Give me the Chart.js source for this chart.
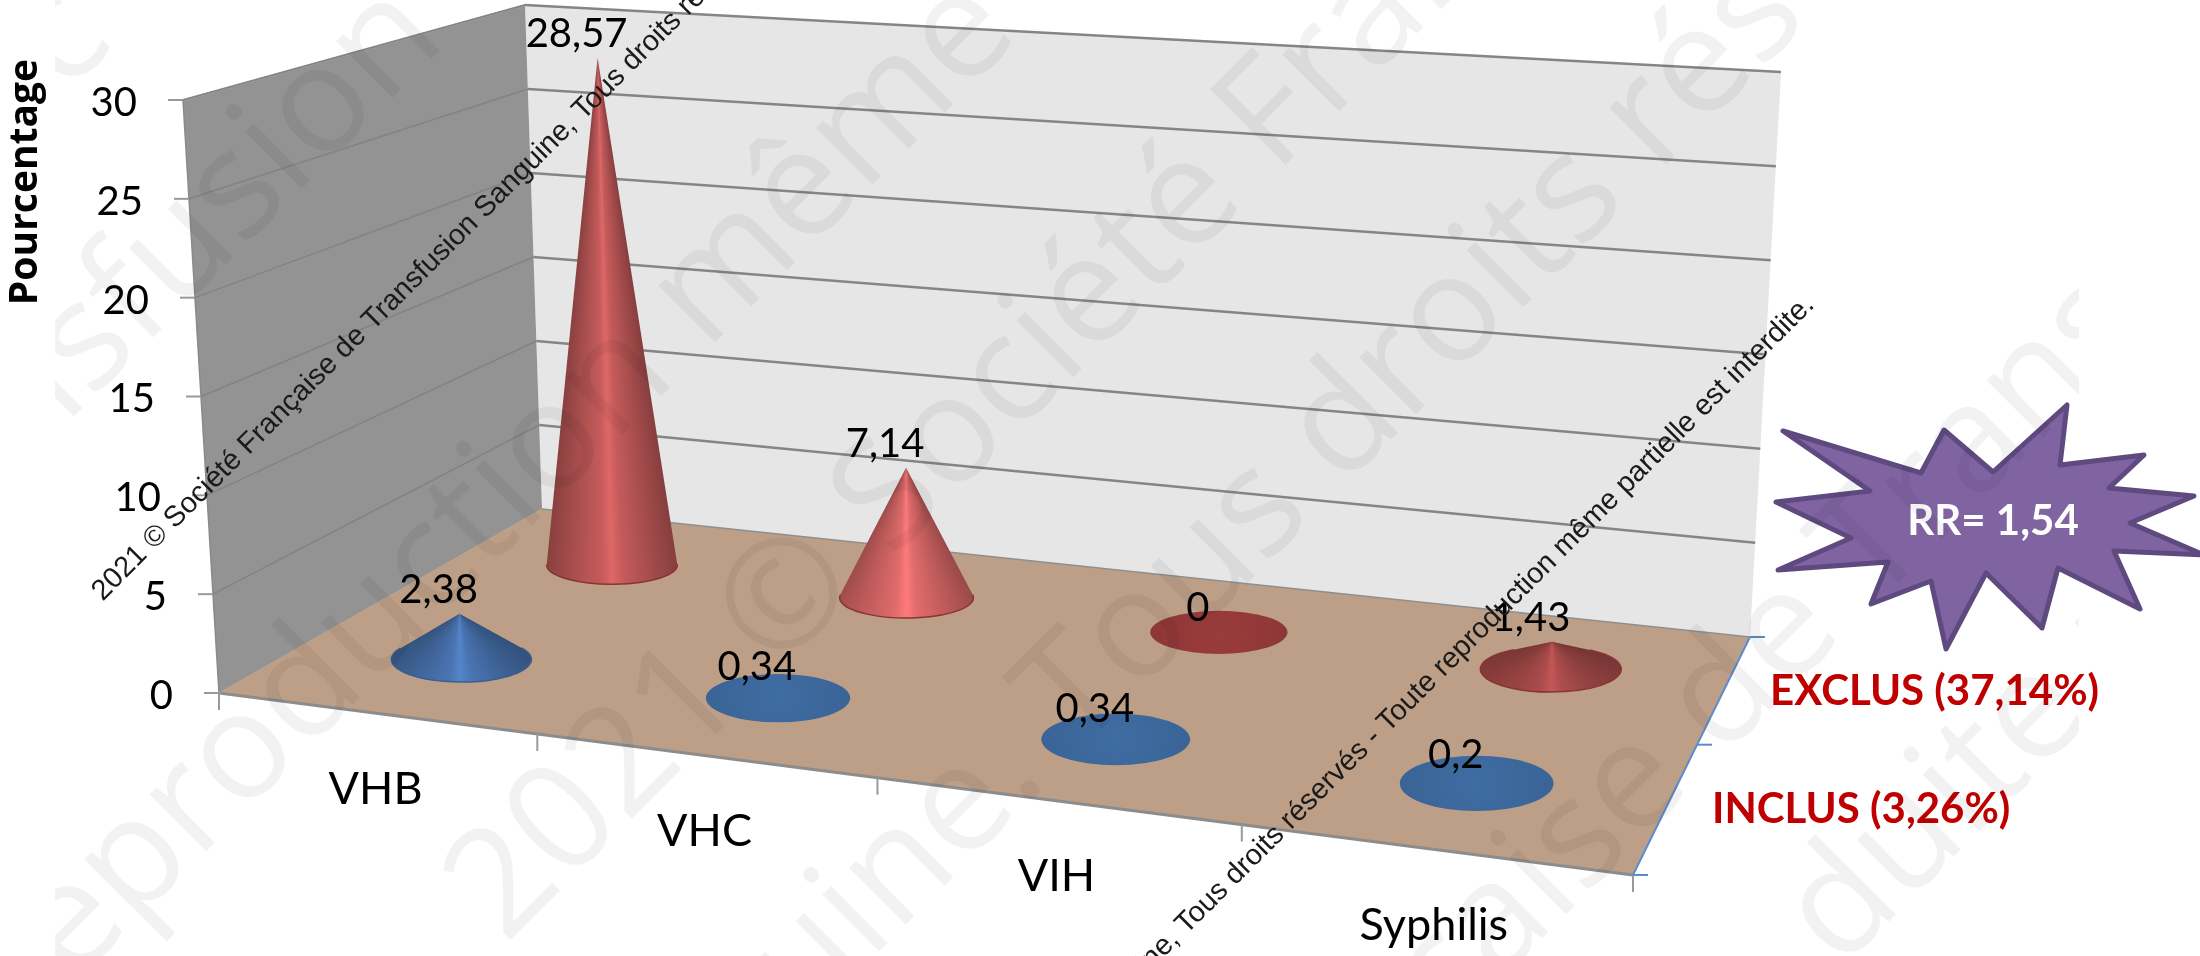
<!DOCTYPE html>
<html lang="fr">
<head>
    <meta charset="UTF-8">
    <title>Pourcentage VHB VHC VIH Syphilis</title>
    <script src="https://cdn.jsdelivr.net/npm/chart.js"></script>
    <style>
        body { margin: 0; padding: 0; background-color: white; }
        canvas { display: block; }
    </style>
</head>
<body>
    <canvas id="coneChart" width="2200" height="956"></canvas>

    <script>
        // donnees
        const categories = ['VHB', 'VHC', 'VIH', 'Syphilis'];
        const depthLabels = ['INCLUS (3,26%)', 'EXCLUS (37,14%)'];
        const inclus = [2.38, 0.34, 0.34, 0.2];
        const exclus = [28.57, 7.14, 0, 1.43];
        const yTicks = [0, 5, 10, 15, 20, 25, 30];
        const axisTitle = 'Pourcentage';
        const badgeText = 'RR= 1,54';
        const copyright = '2021 © Société Française de Transfusion Sanguine, Tous droits réservés - Toute reproduction même partielle est interdite.';

        // la boite 3D vue en perspective : coins du sol, et montant vertical (dx, dy) a chaque coin
        const floorQuad = [[219, 693], [1633, 875], [1750, 637], [542, 509]];
        const riseAtCorner = [[-36, -593], [32, -620], [31, -565], [-17, -504]];

        const starPoints = [[1783, 431], [1921, 473], [1944, 430], [1993, 472], [2067, 405], [2060, 465], [2144, 455],
            [2109, 488], [2194, 496], [2130, 523], [2204, 555], [2114, 551], [2140, 609], [2058, 568], [2042, 628],
            [1986, 573], [1946, 649], [1931, 581], [1871, 604], [1888, 562], [1778, 570], [1851, 538], [1776, 502], [1870, 491]];

        // filigrane : c = x + y de la ligne, u = x - y du debut du texte
        const watermark = [
            { text: 'c', c: 100, u: -30 },
            { text: 'Transfusion', c: 430, u: -760 },
            { text: 'Reproduction même', c: 997, u: -1043 },
            { text: '2021 © Société Française', c: 1390, u: -440 },
            { text: 'Sanguine. Tous droits réservés', c: 1770, u: -700 },
            { text: 'Française de Transfusion', c: 2420, u: -30 },
            { text: 'duite reproduction', c: 2750, u: 870 }
        ];

        const redCone = { flat: [142, 55, 55], lit: [255, 122, 122] };
        const blueCone = { flat: [58, 100, 150], lit: [86, 136, 208] };

        function squareToQuad(q) {
            const [x0, y0] = q[0], [x1, y1] = q[1], [x2, y2] = q[2], [x3, y3] = q[3];
            const dx1 = x1 - x2, dx2 = x3 - x2, sx = x0 - x1 + x2 - x3;
            const dy1 = y1 - y2, dy2 = y3 - y2, sy = y0 - y1 + y2 - y3;
            const den = dx1 * dy2 - dx2 * dy1;
            const g = (sx * dy2 - dx2 * sy) / den;
            const h = (dx1 * sy - sx * dy1) / den;
            const a = x1 - x0 + g * x1, b = x3 - x0 + h * x3;
            const d = y1 - y0 + g * y1, e = y3 - y0 + h * y3;
            return (u, v) => {
                const w = g * u + h * v + 1;
                return [(a * u + b * v + x0) / w, (d * u + e * v + y0) / w];
            };
        }
        const floorAt = squareToQuad(floorQuad);

        // u, v entre 0 et 1 sur le sol, t = fraction de la hauteur de l'axe
        function point3d(u, v, t) {
            const f = floorAt(u, v);
            const r = riseAtCorner;
            const mix = i => (r[0][i] * (1 - u) + r[1][i] * u) * (1 - v) + (r[3][i] * (1 - u) + r[2][i] * u) * v;
            return { x: f[0] + mix(0) * t, y: f[1] + mix(1) * t };
        }

        function polygon(ctx, pts, fill, stroke, width) {
            ctx.beginPath();
            pts.forEach((p, i) => i ? ctx.lineTo(p.x, p.y) : ctx.moveTo(p.x, p.y));
            ctx.closePath();
            if (fill) { ctx.fillStyle = fill; ctx.fill(); }
            if (stroke) { ctx.strokeStyle = stroke; ctx.lineWidth = width; ctx.lineJoin = 'round'; ctx.stroke(); }
        }

        function line(ctx, a, b, color, width) {
            ctx.beginPath();
            ctx.moveTo(a.x, a.y);
            ctx.lineTo(b.x, b.y);
            ctx.strokeStyle = color;
            ctx.lineWidth = width;
            ctx.stroke();
        }

        function label(ctx, text, x, y, font, color, align) {
            ctx.font = font;
            ctx.fillStyle = color;
            ctx.textAlign = align || 'center';
            ctx.textBaseline = 'middle';
            ctx.fillText(text, x, y);
        }

        function rgb(c, k) {
            return 'rgb(' + c.map(n => Math.min(255, Math.round(n * k))).join(',') + ')';
        }

        function drawCone(ctx, base, apex, rx, ry, colors) {
            const ax = (apex.x - base.x) / rx, ay = (apex.y - base.y) / ry;
            const d = Math.hypot(ax, ay);
            ctx.save();
            if (d <= 1) {
                // cone presque plat : on ne voit que le disque
                const g = ctx.createRadialGradient(apex.x, apex.y + 4, 0, apex.x, apex.y + 4, rx);
                g.addColorStop(0, rgb(colors.flat, 1.08));
                g.addColorStop(0.5, rgb(colors.flat, 1.04));
                g.addColorStop(1, rgb(colors.flat, 1));
                ctx.beginPath();
                ctx.ellipse(base.x, base.y, rx, ry, 0, 0, Math.PI * 2);
                ctx.fillStyle = g;
                ctx.fill();
                ctx.restore();
                return;
            }
            const th = Math.atan2(ay, ax), phi = Math.acos(1 / d);
            const a1 = th + phi, a2 = th - phi + Math.PI * 2;
            const right = { x: base.x + rx * Math.cos(a1), y: base.y + ry * Math.sin(a1) };
            const left = { x: base.x + rx * Math.cos(a2), y: base.y + ry * Math.sin(a2) };
            const ang1 = Math.atan2(right.y - apex.y, right.x - apex.x);
            let ang2 = Math.atan2(left.y - apex.y, left.x - apex.x);
            if (ang2 < ang1) ang2 += Math.PI * 2;
            const span = (ang2 - ang1) / (Math.PI * 2);

            const ratio = (base.y - apex.y) / rx;
            const s = Math.min(1, (ratio - 0.1) / 0.6) * (ratio > 4 ? 0.72 : 1);
            const c = colors.flat.map((n, i) => n + (colors.lit[i] - n) * s);
            const g = ctx.createConicGradient(ang1, apex.x, apex.y);
            g.addColorStop(0, rgb(c, 0.6));
            g.addColorStop(span * 0.18, rgb(c, 0.72));
            g.addColorStop(span * 0.42, rgb(c, 0.88));
            g.addColorStop(span * 0.5, rgb(c, 1));
            g.addColorStop(span * 0.58, rgb(c, 0.88));
            g.addColorStop(span * 0.82, rgb(c, 0.74));
            g.addColorStop(span, rgb(c, 0.62));
            g.addColorStop(1, rgb(c, 0.62));

            ctx.beginPath();
            ctx.moveTo(apex.x, apex.y);
            ctx.ellipse(base.x, base.y, rx, ry, 0, a1, a2);
            ctx.closePath();
            ctx.fillStyle = g;
            ctx.fill();

            ctx.beginPath();
            ctx.ellipse(base.x, base.y, rx, ry, 0, a1, a2);
            ctx.strokeStyle = rgb(colors.flat, 0.95);
            ctx.lineWidth = 1.5;
            ctx.stroke();
            ctx.restore();
        }

        // passe par les echelles du graphique pour placer chaque valeur
        function toFloor(chart, catIndex, depthIndex) {
            const x = chart.scales.x, depth = chart.scales.depth;
            return {
                u: (x.getPixelForValue(catIndex) - x.left) / x.width,
                v: (depth.getPixelForValue(depthIndex) - depth.left) / depth.width
            };
        }
        function toHeight(chart, value) {
            const y = chart.scales.y;
            return (y.bottom - y.getPixelForValue(value)) / y.height;
        }

        const boxPlugin = {
            id: 'box3d',
            beforeDatasetsDraw(chart) {
                const ctx = chart.ctx;
                const fl = point3d(0, 0, 0), fr = point3d(1, 0, 0), br = point3d(1, 1, 0), bl = point3d(0, 1, 0);
                const tfl = point3d(0, 0, 1), tbl = point3d(0, 1, 1), tbr = point3d(1, 1, 1);

                polygon(ctx, [bl, tbl, tbr, br], '#e6e6e6');
                polygon(ctx, [fl, tfl, tbl, bl], '#939393');
                line(ctx, tfl, tbl, '#a9a9a9', 2);
                line(ctx, tfl, fl, '#8a8a8a', 1.5);

                yTicks.forEach(tick => {
                    const t = toHeight(chart, tick);
                    const a = point3d(0, 0, t), b = point3d(0, 1, t), c = point3d(1, 1, t);
                    if (tick > 0) {
                        line(ctx, a, b, '#838383', 1.5);
                        line(ctx, b, c, '#858585', 2.5);
                    }
                    line(ctx, { x: a.x - 15, y: a.y }, a, '#999999', 2);
                    label(ctx, String(tick), a.x - 46, chart.scales.y.getPixelForValue(tick) + 3, '40px Lato', '#000000', 'right');
                });

                polygon(ctx, [fl, fr, br, bl], '#bd9f87');
                line(ctx, bl, br, '#8f8f8f', 1.5);
                line(ctx, fl, fr, '#8c8c8c', 3);
                line(ctx, fr, br, '#5b8ccb', 2);
                line(ctx, fl, bl, '#b7a08b', 1);

                // graduations de l'axe des categories et de la profondeur
                for (let i = 0; i <= categories.length; i++) {
                    const p = point3d(i / categories.length, 0, 0);
                    line(ctx, p, { x: p.x, y: p.y + 17 }, '#999999', 2);
                }
                for (let i = 0; i <= depthLabels.length; i++) {
                    const p = point3d(1, i / depthLabels.length, 0);
                    line(ctx, p, { x: p.x + 15, y: p.y }, '#5b8ccb', 2);
                }

                const x = chart.scales.x;
                categories.forEach((name, i) => {
                    const u = (x.getPixelForValue(i) - x.left) / x.width;
                    const p = point3d(u, 0, 0);
                    label(ctx, name, p.x, p.y + 76, '45px Lato', '#000000');
                });

                label(ctx, depthLabels[1], 1770, 691, 'bold 42px Lato', '#c00000', 'left');
                label(ctx, depthLabels[0], 1712, 809, 'bold 42px Lato', '#c00000', 'left');

                ctx.save();
                ctx.translate(26, 182);
                ctx.rotate(-Math.PI / 2);
                label(ctx, axisTitle, 0, 0, 'bold 39px "Open Sans"', '#000000');
                ctx.restore();
            },
            afterDatasetsDraw(chart) {
                const ctx = chart.ctx;
                // du fond vers l'avant
                for (let d = chart.data.datasets.length - 1; d >= 0; d--) {
                    const ds = chart.data.datasets[d];
                    ds.data.forEach((value, i) => {
                        const pos = toFloor(chart, i, d);
                        const base = point3d(pos.u, pos.v, 0);
                        const apex = point3d(pos.u, pos.v, toHeight(chart, value));
                        const step = 1 / categories.length / 2, deep = 1 / depthLabels.length / 2;
                        const rx = (0.232 - 0.03 * pos.u) * (point3d(pos.u + step, pos.v, 0).x - point3d(pos.u - step, pos.v, 0).x);
                        const ry = 0.22 * (point3d(pos.u, pos.v - deep, 0).y - point3d(pos.u, pos.v + deep, 0).y);
                        drawCone(ctx, base, apex, rx, ry, ds.coneColors);
                    });
                }
                for (let d = chart.data.datasets.length - 1; d >= 0; d--) {
                    const ds = chart.data.datasets[d];
                    ds.data.forEach((value, i) => {
                        const pos = toFloor(chart, i, d);
                        const apex = point3d(pos.u, pos.v, toHeight(chart, value));
                        label(ctx, String(value).replace('.', ','), apex.x - 21, apex.y - 24, '40px Lato', '#000000');
                    });
                }
            },
            afterDraw(chart) {
                const ctx = chart.ctx;
                polygon(ctx, starPoints.map(p => ({ x: p[0], y: p[1] })), '#8064a2', '#5f4a80', 5);
                label(ctx, badgeText, 1993, 521, 'bold 42px Lato', '#ffffff');

                ctx.save();
                ctx.beginPath();
                ctx.rect(55, 0, 2024, 956);
                ctx.clip();
                watermark.forEach(w => {
                    ctx.save();
                    ctx.translate((w.c + w.u) / 2, (w.c - w.u) / 2);
                    ctx.rotate(-Math.PI / 4);
                    label(ctx, w.text, 0, 0, '150px "Open Sans"', 'rgba(0,0,0,0.05)', 'left');
                    ctx.restore();
                });
                ctx.restore();

                [[97, 596], [700, 1410]].forEach(p => {
                    ctx.save();
                    ctx.translate(p[0], p[1]);
                    ctx.rotate(-Math.PI / 4);
                    label(ctx, copyright, 0, 0, '29px "Liberation Sans"', '#1a1a1a', 'left');
                    ctx.restore();
                });
            }
        };

        new Chart(document.getElementById('coneChart').getContext('2d'), {
            type: 'bar',
            data: {
                labels: categories,
                datasets: [
                    { label: depthLabels[0], data: inclus, backgroundColor: 'transparent', coneColors: blueCone },
                    { label: depthLabels[1], data: exclus, backgroundColor: 'transparent', coneColors: redCone }
                ]
            },
            plugins: [boxPlugin],
            options: {
                responsive: false,
                animation: false,
                events: [],
                layout: { padding: { left: 219, top: 100, right: 567, bottom: 263 } },
                plugins: { legend: { display: false }, tooltip: { enabled: false } },
                scales: {
                    x: { type: 'category', display: false },
                    depth: { type: 'category', axis: 'x', position: 'bottom', labels: depthLabels, offset: true, display: false },
                    y: { type: 'linear', min: 0, max: 30, display: false, ticks: { stepSize: 5 } }
                }
            }
        });
    </script>
</body>
</html>
